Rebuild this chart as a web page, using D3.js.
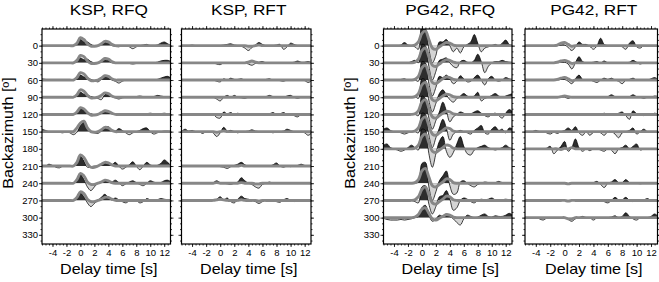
<!DOCTYPE html>
<html><head><meta charset="utf-8">
<script src="https://cdn.jsdelivr.net/npm/d3@7"></script>
<style>
body{margin:0;background:#fff}
svg{display:block}
text{font-family:"Liberation Sans",Arial,Helvetica,sans-serif;fill:#000}
</style>
</head><body>
<svg id="chart" width="659" height="282"></svg>
<script>
// ---------- DATA ----------
const timeTicks = [-4,-2,0,2,4,6,8,10,12];
const bazTicks = [0,30,60,90,120,150,180,210,240,270,300,330];
const sampleStart = -5.5;   // s, first sample time
const sampleStep = 0.5;     // s between samples
const panelTitles = ["KSP, RFQ","KSP, RFT","PG42, RFQ","PG42, RFT"];
const xLabel = "Delay time  [s]";
const yLabel = "Backazimuth  [º]";

// KSP station backazimuths
const kspBaz = [0,30,60,90,120,150,210,240,270];
const kspRfqObs = [
 [0,0,0,0,0,0,0,0,0,0,1, 5,3,3,1,0,0,1,3,2.5,0, -0.5,-1,0,0,-1,-2.5,-1,0,0.5,1, 0,0,0.5,2,3,1.5,0],
 [0,0,0,0,0,0,0,0,0,0,1, 4,2.5,3,1,0,0,1,3,2,0, 0,0,0,0,-0.5,-1,-0.5,0,0,0, 0,0,0.5,1.5,2,2,1],
 [1,0.5,0,0,0,0,0,0,0,0,1, 4,2.5,2,0.5,-0.5,-1.5,0.5,3,2,0, -1,-2.5,-1,0,0,0,0,0,0,0, 0,0,0.5,1.5,2.5,3,1.5],
 [0,0,0,0,0,0,0,0,0,0,1, 4,2.5,2,0.5,0,-1,-2,2,2.5,0.5, -0.5,-1.5,-0.5,0,0,0,0.5,1,0.5,0, 0,0.5,1.5,1,0.5,0.5,0],
 [0,0,0,0,0,0,0,0,0,0,1.5, 5,3,1,0.5,0,0,1,3,2,0.5, 0,0,0,0,0,0,0,0,0,0.5, 1,0.5,0,0.5,1,0.5,0],
 [2,1,0,0,0,-0.5,-1,0,-1,-2.5,-0.5, 5,7.5,3,0,-1,-1.5,0.5,3.5,4,1, 0.5,2.5,1,-1,-2.5,-1,0,1,2.5,3, 0,-2,-1,0,0.5,0.5,0],
 [0,0,1.5,0.5,-1,-1.5,0,0,0,0,2, 8,4,-1,-0.5,0,0,1,3,2,1, 3,0,-2.5,-1,1,3.5,0,-3,0,3, 1,0,0.5,2,5,3,0],
 [0,0,0,0,0,0,0,0,0,0,2, 7,3,-3,-6,-3,0,1,2,1.5,1, 2.5,0.5,-2,-0.5,1,2,0.5,-1,-2,0, 2,1,0,0.5,2,2.5,1],
 [0,0,0,0,0,0,0,0,0,0,2, 6,3,-2,-5,-2.5,0,2.5,5,2,0.5, 2,0.5,-1,-2,-0.5,0,0,-2,-1,1.5, 0.5,0,0.5,1.5,1,0.5,0]
];
const kspRfqSyn = [
 [0,0,0,0,0,0,0,0,0,0,2, 6.5,5,1.5,-0.5,-0.5,0,1.5,3.5,3,1, 0,0,0,0,0,0,0,0,0,0, 0,0,0,0,0,0,0],
 [0,0,0,0,0,0,0,0,0,0,2, 6,5,1.5,-0.5,-0.5,0,1.5,3.5,3,1, 0,0,0,0,0,0,0,0,0,0, 0,0,0,0,0,0,0],
 [0,0,0,0,0,0,0,0,0,0,2, 6,5,1.5,-0.5,-0.5,0,1.5,3.5,3,1, 0,0,0,0,0,0,0,0,0,0, 0,0,0,0,0,0,0],
 [0,0,0,0,0,0,0,0,0,0,2, 6,5,1.5,-0.5,-0.5,0,1.5,3.5,3,1, 0,0,0,0,0,0,0,0,0,0, 0,0,0,0,0,0,0],
 [0,0,0,0,0,0,0,0,0,0,2, 5.5,4.5,1.5,-0.5,-0.5,0,1.5,3,2.5,1, 0,0,0,0,0,0,0,0,0,0, 0,0,0,0,0,0,0],
 [0,0,0,0,0,0,0,0,0,0,3, 7,8.5,3,0,-0.5,0,1.5,3.5,3,1, 0,0,0,0,0,0,0,0,0,0, 0,0,0,0,0,0,0],
 [0,0,0,0,0,0,0,0,0,0,3, 9,7,2,-1,-1,0,1.5,3,2.5,1, 0,0,0,0,0,0,0,0,0,0, 0,0,0,0,0,0,0],
 [0,0,0,0,0,0,0,0,0,0,3, 8,6,1,-1,-1,0,1,2.5,2,0.5, 0,0,0,0,0,0,0,0,0,0, 0,0,0,0,0,0,0],
 [0,0,0,0,0,0,0,0,0,0,2.5, 7,5.5,1,-1,-1,0,1,2.5,2.5,1, 0,0,0,0,0,0,0,0,0,0, 0,0,0,0,0,0,0]
];
const kspRftObs = [
 [0,0,0,0.5,0,0,0,0,0,0,0, 0,0.5,1,1.5,0.5,0,-0.5,-2,-4,-1.5, 0.5,2.5,1,0,0,0,0.5,1,-3,-1, 2,1,0,0,0,0,0],
 [0,0,0,0,0,0,0,0,0,0,-1, -1.5,0,0,0,0,0,0,0,-1,-2, -0.5,0.5,1,0,0,0,0,0,0,0, 0,0.5,1.5,0.5,0.5,1,0],
 [0,0,0,0,0,0,0,0,0,0,-1, -1.5,1,0,1.5,0.5,0.5,1,0,0,0, 0,0,0,0.5,1,0,0,-0.5,-1,0, 0,0,0,0,-0.5,-2,-0.5],
 [0,0,0,0,0,0,0,0,0,0,-1.5, -3,0,1.5,0,1.5,0,-0.5,-1,0,0, 0,0,0,0.5,1.5,0.5,0,0,0,1, 1.5,0,-1,0,0,0,0],
 [0,0,0,0,0,0,0,0,0,0,-2.5, -3,2,0.5,1.5,0,1,0,0,0,0, 0,0,0,0,0.5,1.5,0,0.5,1.5,0, 0,-1,-2,0,0,0,0],
 [0,2,0.5,1,0,0,-1.5,0,0,-1,-4, -1,3.5,0.5,1,0,-1,0,0,0.5,1.5, 0.5,0,0,0,0,-1,0,0,0.5,2, 1,0,0,0,-1,-3,-1],
 [0,0,0,0,0,0,0,0,0,0,0, -0.5,-1,-2,-0.5,0.5,1.5,3,1,0,0, 0,0,0,0,0,1,2.5,0,-1,0, -0.5,0,0.5,1.5,0.5,0,0],
 [0,0,0,0,0,0,0,0,0,0.5,2, 0.5,0,-0.5,-1,0,1,4.5,2,0,-1, -3,-4,-1,0,1,0,0,0,0,0, 0,0,0,0,0,0,0],
 [0,0,0,0,0,0,0,0,0,0,1, 3,0.5,2,-1,-2,1,3.5,1.5,1,0, -1,-2.5,-1,0,0,0,-1,-1.5,0.5,1.5, 0,-1,0,0,0,0,0]
];
const kspRftSyn = [
 [0,0,0,0,0,0,0,0,0,0,0, 0,0,0,0,0,0,0,0,-0.5,-0.5, 0,0.5,0,0,0,0,0,0,0,0, 0,0,0,0,0,0,0],
 [0,0,0,0,0,0,0,0,0,0,0, 0,0,0,0,0,0,0,0,0.5,1.5, 0.5,0,0,0,0,0,0,0,0,0, 0,0,0,0,0,0,0],
 [0,0,0,0,0,0,0,0,0,0,0, 0,0,0,0,0,0,0,0,0,0, 0,0,0,0,0,0,0,0,0,0, 0,0,0,0,0,0,0],
 [0,0,0,0,0,0,0,0,0,0,0, 0,0,0,0,0,0,0,0,0,0, 0,0,0,0,0,0,0,0,0,0, 0,0,0,0,0,0,0],
 [0,0,0,0,0,0,0,0,0,0,0, 0,0,0,0,0,0,0,0,0,0, 0,0,0,0,0,0,0,0,0,0, 0,0,0,0,0,0,0],
 [0,0,0,0,0,0,0,0,0,0,-0.5, 0,0.5,0,0,0,0,0,0,0,0, 0,0,0,0,0,0,0,0,0,0, 0,0,0,0,0,0,0],
 [0,0,0,0,0,0,0,0,0,0,0, 0,0,0,0,0,0,0.5,0,0,0, 0,0,0,0,0,0,0,0,0,0, 0,0,0,0,0,0,0],
 [0,0,0,0,0,0,0,0,0,0,0.5, 0,0,0,0,0,0,0.5,0,0,0, -0.5,-0.5,0,0,0,0,0,0,0,0, 0,0,0,0,0,0,0],
 [0,0,0,0,0,0,0,0,0,0,0.5, 1,0.5,0,0,0,0,0.5,0,0,0, 0,-0.5,0,0,0,0,0,0,0,0, 0,0,0,0,0,0,0]
];

// PG42 backazimuths
const pgBaz = [0,30,60,90,120,150,180,240,270,300];
const pgRfqObs = [
 [0,0,0,0,0,0.5,2.5,0.5,0,-1,-3, 16,14,-3,-14,-8,3,3,5,0,-5, -2,-6,-1,1,3,9,2,-5,-2,-1, 0,1,0,2,4.5,1,0],
 [0,0,0,0,0,0,0,0,1,2,0, 15,14,-3,-14,-7,2,3,4,0,-3, -4,1,2,0.5,0,2,7,1,-8,-3, 0,1,1,2,1,0.5,0],
 [0,0,0,0,0,0.5,1,0,0,0,-1, 15,14,-3,-13,-6,3,2,4,1,-3, -1,3.5,1,-1.5,-1,2,4,0,-4,1, 3,0,-1,0,2,1,0],
 [0,0,0,0,0,0,0,0,0,0.5,-1, 15,14,-3,-12,-5,3,6,2,-2,-4, -1,1,3,1,0,1,4,-3,-1,0, 1.5,3,1,0,1,2,3],
 [0,0,0,0,0,0,0,0,0,0,-1, 15,13,-3,-12,-5,2,10,3,-6,-2, 0,2,1,0,0.5,2,3,1,-1,-2, 0,1,-1,-3,1,4,2],
 [2,3,1,0,0,-1,-2,-1,0,0,-1, 15,14,-3,-13,-5,3,10,3,-7,-2, 0,1,0,-1,-2,1,3,5,-1,-2, 2,4,1,2,-1,3,2],
 [3,4,1,0,-1,-2,-1,1,3,1,-1, 16,15,-4,-15,-4,6,10,-2,-7,-3, 4,10,2,-4,-5,-1,1,2,3,1, 0,-1,0,1,3,1,0],
 [0,0,0,0,0,0,0,0,0,0,1, 16,17,-3,-14,-7,2,6,10,-2,-9, -8,1,2,0,-2,-3,-1,0,1,0.5, 0,0.5,1.5,0.5,0,0,0],
 [0,0,0,0,0,0,0,0,0,-1,-2, 11,12,-3,-11,-5,3,4,8,1,-8, -6,0,2,1,-1,-2,0,1,0.5,1, 2,0.5,0,0.5,1,0.5,0],
 [-0.5,-1.5,-2,-2,-2,-1.5,-2,-1.5,-1,0,1, 8,10,2,-3,-1,2,1,3,1,-1, -4,-6,-1,2,1,0,0.5,2,3,1, 0.5,1.5,1,1,2,3.5,2]
];
const pgRfqSyn = [
 [0,0,0,0,0,0,0,0,0,0.5,3, 10,12,5,-2,-3,-1,1,2.5,2,0.5, 0,0,0,0,0,0,0,0,0,0, 0,0,0,0,0,0,0],
 [0,0,0,0,0,0,0,0,0,0.5,3, 10,12,5,-2,-3,-1,1,2.5,2,0.5, 0,0,0,0,0,0,0,0,0,0, 0,0,0,0,0,0,0],
 [0,0,0,0,0,0,0,0,0,0.5,3, 10,12,5,-2,-3,-1,1,2.5,2,0.5, 0,0,0,0,0,0,0,0,0,0, 0,0,0,0,0,0,0],
 [0,0,0,0,0,0,0,0,0,0.5,3, 10,12,5,-2,-3,-1,1,2.5,2,0.5, 0,0,0,0,0,0,0,0,0,0, 0,0,0,0,0,0,0],
 [0,0,0,0,0,0,0,0,0,0.5,3, 10,12,5,-2,-3,-1,1,2.5,2,0.5, 0,0,0,0,0,0,0,0,0,0, 0,0,0,0,0,0,0],
 [0,0,0,0,0,0,0,0,0,0.5,3, 10,12,5,-2,-3,-1,1,3,2.5,0.5, 0,0,0,0,0,0,0,0,0,0, 0,0,0,0,0,0,0],
 [0,0,0,0,0,0,0,0,0,0.5,3, 10,12,5,-2,-3,-1,1,3,2.5,0.5, 0,0,0,0,0,0,0,0,0,0, 0,0,0,0,0,0,0],
 [0,0,0,0,0,0,0,0,0,0.5,3, 10,12,5,-2,-3,-1,1,3.5,3,0.5, 0,0,0,0,0,0,0,0,0,0, 0,0,0,0,0,0,0],
 [0,0,0,0,0,0,0,0,0,0.5,3, 9,11,4.5,-2,-3,-1,1,3.5,3,0.5, 0,0,0,0,0,0,0,0,0,0, 0,0,0,0,0,0,0],
 [0,0,0,0,0,0,0,0,0,0.5,2.5, 7,8,3.5,-1,-2,-0.5,1,2.5,2,0.5, 0,0,0,0,0,0,0,0,0,0, 0,0,0,0,0,0,0]
];
const pgRftObs = [
 [0,0,0,0,0,0,0,0,0,0,0.5, 0.5,-1.5,-4,-1,3,1,1,-0.5,-3,0, 6,1,0,0,0,0,-1,-3,2,4, -1,-2,0,0,0,0,0],
 [0,0,0,0,0,0,0,0,0,0,0.5, 0.5,-1,-5,0,5,1,0,0,0.5,1, 0,1.5,0,0,0,0,0,0,0.5,2, 0.5,-1,0,0,0,0,0],
 [0,0,0,0,0,0,0,0,0,0,0.5, 0.5,-1,-3,1,4,0.5,0,0,-1,-2, 0,1.5,0.5,1.5,0,-1,-3,0,0.5,1.5, 0,0,0,0,1,2,0.5],
 [0,0,0,0,0,0,0,0,0,0,0, 0,-1,0,0,0.5,0,0,0,0.5,0, 0,0,0.5,2,0.5,0,0,0,0.5,2, 0.5,0,-1,0,0,1,0.5],
 [0,0,0,0,0,0,0,0,0,0,0, 0,0,0,0,0,0,0,0,0,0, 0,1,0,-0.5,0,1,2,-1,-4,3, 0.5,0,-1,0,0,1,0],
 [0,0,0,1,0,0,-1,-2,-0.5,-1.5,0, 1,3,1,4,-1,-3,0,-3,-0.5,0, -1,-3,0,0,-2,-5,-1,0,1,3, -2,0,2,0,0,0,0],
 [0,0,0,0,0,0,0.5,2,-4,-1,2, 6,-2,1,8,1,-2,0,-1.5,0,0, -1,-2,0,-1,-4,0,1,3,0,2, 4,-1,0,0,0,0,0],
 [0,0,0,0,0,0,0,0,0,0,0, 0,-0.5,0,0,0,0,0,0,0.5,1.5, -1,-3.5,0,1,3,0.5,0.5,3,0.5,0, 0,-0.5,0,0,0.5,0,0],
 [0,0,0,0,0,0,0,0,0,0,0, 0,-0.5,0,0,0,0,0,0,0,0, 0,-1,-2,0,2.5,0.5,0.5,2.5,0,-1, 0,0,0.5,1.5,0,0,0],
 [0,0,0,0,-1,-2,-0.5,0,0,-0.5,0, 0,-1.5,-3,-1,0,1,0,0,-2,0, 0,0,0,0.5,1.5,0,1,4,1,-1, -2,0,0,0,1,3,1]
];
const pgRftSyn = [
 [0,0,0,0,0,0,0,0,0,0.5,2, 2.5,1,-0.5,0,0,0,0,0,0,0, 0,0,0,0,0,0,0,0,0,0, 0,0,0,0,0,0,0],
 [0,0,0,0,0,0,0,0,0,0.5,1.5, 2,1,-0.5,0,0,0,0,0,0,0, 0,0,0,0,0,0,0,0,0,0, 0,0,0,0,0,0,0],
 [0,0,0,0,0,0,0,0,0,0.5,1.5, 2,1,-0.5,0,0,0,0,0,0,0, 0,0,0,0,0,0,0,0,0,0, 0,0,0,0,0,0,0],
 [0,0,0,0,0,0,0,0,0,0,0.5, 1,0.5,0,0,0,0,0,0,0,0, 0,0,0,0,0,0,0,0,0,0, 0,0,0,0,0,0,0],
 [0,0,0,0,0,0,0,0,0,0,0, 0,0,0,0,0,0,0,0,0,0, 0,0,0,0,0,0,0,0,0,0, 0,0,0,0,0,0,0],
 [0,0,0,0,0,0,0,0,0,0,0, 0,0,0,0,0,0,0,0,0,0, 0,0,0,0,0,0,0,0,0,0, 0,0,0,0,0,0,0],
 [0,0,0,0,0,0,0,0,0,0,-0.5, 0.5,0,1,0,0,0,0,0,0,0, 0,0,0,0,0,0,0,0,0,0, 0,0,0,0,0,0,0],
 [0,0,0,0,0,0,0,0,0,0,0, 0,-0.5,0,0,0,0,0,0,0,0, 0,0,0,0,0,0,0,0,0,0, 0,0,0,0,0,0,0],
 [0,0,0,0,0,0,0,0,0,0,0, 0,-0.5,0,0,0,0,0,0,0,0, 0,0,0,0,0,0,0,0,0,0, 0,0,0,0,0,0,0],
 [0,0,0,0,0,0,0,0,0,0,0, 0,-1,-1,0,0,0,0,0,0,0, 0,0,0,0,0,0,0,0,0,0, 0,0,0,0,0,0,0]
];

// ---------- LAYOUT ----------
const timeDomain = [-5.5, 12.9];
const bazDomain = [-29, 346];
const plotTop = 29, plotBottom = 244;
const panelBoxes = [[42,170.5],[181.5,311],[383.5,512],[525,657.5]];
const panelData = [
  {baz:kspBaz, obs:kspRfqObs, syn:kspRfqSyn, ylab:true},
  {baz:kspBaz, obs:kspRftObs, syn:kspRftSyn, ylab:false},
  {baz:pgBaz,  obs:pgRfqObs,  syn:pgRfqSyn,  ylab:true},
  {baz:pgBaz,  obs:pgRftObs,  syn:pgRftSyn,  ylab:false}
];
const posFill = "#2d2d2d", negFill = "#d4d4d4", synColor = "#878787";

const svg = d3.select("#chart");
const yS = d3.scaleLinear().domain(bazDomain).range([plotTop, plotBottom]);
const ampK = (yS(30) - yS(0)) / 14;
const defs = svg.append("defs");
let cid = 0;

panelData.forEach((pd, pi) => {
  const [x0, x1] = panelBoxes[pi];
  const xS = d3.scaleLinear().domain(timeDomain).range([x0, x1]);
  const g = svg.append("g");

  const frameId = "frame" + pi;
  defs.append("clipPath").attr("id", frameId)
    .append("rect").attr("x", x0).attr("y", plotTop).attr("width", x1 - x0).attr("height", plotBottom - plotTop);
  const inner = g.append("g").attr("clip-path", `url(#${frameId})`);

  pd.baz.forEach((b, ti) => {
    const base = yS(b);
    const pts = pd.obs[ti].map((v, i) => [sampleStart + i * sampleStep, v]);
    const spts = pd.syn[ti].map((v, i) => [sampleStart + i * sampleStep, v]);
    const area = d3.area().x(d => xS(d[0])).y0(base).y1(d => base - d[1] * ampK).curve(d3.curveCatmullRom);
    const line = d3.line().x(d => xS(d[0])).y(d => base - d[1] * ampK).curve(d3.curveCatmullRom);
    const up = "cu" + cid, dn = "cd" + cid;
    cid++;
    defs.append("clipPath").attr("id", up).append("rect")
      .attr("x", x0).attr("y", 0).attr("width", x1 - x0).attr("height", base);
    defs.append("clipPath").attr("id", dn).append("rect")
      .attr("x", x0).attr("y", base).attr("width", x1 - x0).attr("height", 300);
    const tg = inner.append("g");
    tg.append("path").attr("d", area(pts)).attr("fill", negFill).attr("clip-path", `url(#${dn})`);
    tg.append("path").attr("d", area(pts)).attr("fill", posFill).attr("clip-path", `url(#${up})`);
    tg.append("path").attr("d", line(pts)).attr("fill", "none").attr("stroke", "#000").attr("stroke-width", 0.75);
    tg.append("path").attr("d", line(spts)).attr("fill", "none").attr("stroke", synColor)
      .attr("stroke-width", 2.9).attr("stroke-linejoin", "round");
  });

  // axes
  const minorT = d3.range(-5.5, 13, 0.5);
  const minorB = d3.range(-20, 350, 10);
  const fmt = d => String(d);
  const mk = (axis, tr) => {
    const a = g.append("g").attr("transform", tr).call(axis);
    a.select(".domain").remove();
    a.selectAll("line").attr("stroke", "#000").attr("stroke-width", 0.8);
    a.selectAll("text").attr("font-size", 9.5).attr("font-family", '"Liberation Sans",Arial,sans-serif');
    return a;
  };
  mk(d3.axisBottom(xS).tickValues(minorT).tickSize(1.5).tickFormat(""), `translate(0,${plotBottom})`);
  mk(d3.axisBottom(xS).tickValues(timeTicks).tickSize(3).tickPadding(2).tickFormat(fmt), `translate(0,${plotBottom})`);
  mk(d3.axisTop(xS).tickValues(minorT).tickSize(1.5).tickFormat(""), `translate(0,${plotTop})`);
  mk(d3.axisTop(xS).tickValues(timeTicks).tickSize(3).tickFormat(""), `translate(0,${plotTop})`);
  mk(d3.axisLeft(yS).tickValues(minorB).tickSize(1.5).tickFormat(""), `translate(${x0},0)`);
  mk(d3.axisLeft(yS).tickValues(bazTicks).tickSize(3).tickPadding(1).tickFormat(pd.ylab ? fmt : ""), `translate(${x0},0)`);
  mk(d3.axisRight(yS).tickValues(minorB).tickSize(1.5).tickFormat(""), `translate(${x1},0)`);
  mk(d3.axisRight(yS).tickValues(bazTicks).tickSize(3).tickFormat(""), `translate(${x1},0)`);

  g.append("rect").attr("x", x0).attr("y", plotTop).attr("width", x1 - x0).attr("height", plotBottom - plotTop)
    .attr("fill", "none").attr("stroke", "#000").attr("stroke-width", 1.2);

  const cx = (x0 + x1) / 2 + 2.5;
  g.append("text").attr("transform", `translate(${cx},15) scale(1.15,1)`)
    .attr("text-anchor", "middle").attr("font-size", 15).text(panelTitles[pi]);
  g.append("text").attr("transform", `translate(${cx},273.5) scale(1.15,1)`)
    .attr("text-anchor", "middle").attr("font-size", 14).text(xLabel);
  if (pd.ylab) {
    g.append("text").attr("transform", `translate(${x0 - 29},133) rotate(-90) scale(1.15,1)`)
      .attr("text-anchor", "middle").attr("font-size", 14).text(yLabel);
  }
});
</script>
</body></html>
